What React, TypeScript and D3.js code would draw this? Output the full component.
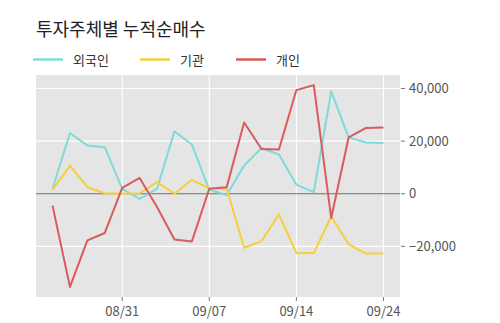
import React from "react";
import * as d3 from "d3";

const dates = ["08/25","08/26","08/27","08/28","08/31","09/01","09/02","09/03","09/04","09/07","09/08","09/09","09/10","09/11","09/14","09/15","09/16","09/17","09/18","09/24"];
const tickDates = ["08/31","09/07","09/14","09/24"];
const foreign = [1900,23100,18300,17700,1900,-1900,1900,23700,18700,1500,-500,10700,17400,14900,3500,600,38900,21400,19500,19300];
const institution = [1500,10700,2500,200,0,200,4400,0,5300,2000,1900,-20500,-18000,-7800,-22500,-22500,-8600,-19200,-22700,-22700];
const individual = [-4500,-35400,-17700,-14900,2200,6000,-5000,-17400,-18100,1900,2500,27100,17000,16800,39400,41300,-9200,21400,25000,25200];
const yTicks = [40000,20000,0,-20000];
const seriesNames = ["외국인","기관","개인"];
const seriesColors = ["#7fdada","#f5d03c","#d95b5b"];

const W = 500, H = 323;
const panel = { left: 36, right: 400, top: 75, bottom: 297 };
const FONT = "'Noto Sans CJK KR', 'Noto Sans', sans-serif";

export default function App() {
  const series = [foreign, institution, individual];
  const all = series.flat();
  const mn = d3.min(all) as number, mx = d3.max(all) as number;
  const pad = (mx - mn) * 0.05;
  const n = dates.length;
  const xpad = (n - 1) * 0.05;
  const x = d3.scaleLinear().domain([-xpad, n - 1 + xpad]).range([panel.left, panel.right]);
  const y = d3.scaleLinear().domain([mn - pad, mx + pad]).range([panel.bottom, panel.top]);
  const line = d3.line<number>().x((_, i) => x(i)).y(d => y(d));
  const fmt = d3.format(",");

  return (
    <svg width={W} height={H} style={{ position: "absolute", left: 0, top: 0, background: "#fff" }} fontFamily={FONT}>
      <text x={36} y={36} fontSize={18} fill="#222">투자주체별 누적순매수</text>
      {seriesNames.map((name, i) => {
        const lx = [33, 140, 236][i];
        return (
          <g key={name}>
            <line x1={lx} x2={lx + 30} y1={59.5} y2={59.5} stroke={seriesColors[i]} strokeWidth={2.5} />
            <text x={lx + 40} y={65} fontSize={13} fill="#333">{name}</text>
          </g>
        );
      })}
      <rect x={panel.left} y={panel.top} width={panel.right - panel.left} height={panel.bottom - panel.top} fill="#e5e5e5" />
      {yTicks.map(t => (
        <line key={"gy" + t} x1={panel.left} x2={panel.right} y1={y(t)} y2={y(t)} stroke="#fff" strokeWidth={1.1} />
      ))}
      {tickDates.map(d => {
        const xi = x(dates.indexOf(d));
        return <line key={"gx" + d} x1={xi} x2={xi} y1={panel.top} y2={panel.bottom} stroke="#fff" strokeWidth={1.1} />;
      })}
      <line x1={panel.left} x2={panel.right} y1={y(0)} y2={y(0)} stroke="#666" strokeWidth={1.2} />
      {series.map((s, i) => (
        <path key={i} d={line(s) || ""} fill="none" stroke={seriesColors[i]} strokeWidth={2} strokeLinejoin="round" />
      ))}
      {yTicks.map(t => (
        <g key={"ty" + t}>
          <line x1={panel.right + 1} x2={panel.right + 5} y1={y(t)} y2={y(t)} stroke="#777" strokeWidth={1} />
          <text x={409} y={y(t) + 4.5} fontSize={13} fill="#555">{fmt(t)}</text>
        </g>
      ))}
      {tickDates.map(d => {
        const xi = x(dates.indexOf(d));
        return (
          <g key={"tx" + d}>
            <line x1={xi} x2={xi} y1={panel.bottom} y2={panel.bottom + 4} stroke="#777" strokeWidth={1} />
            <text x={xi} y={316} fontSize={13} fill="#555" textAnchor="middle">{d}</text>
          </g>
        );
      })}
    </svg>
  );
}
